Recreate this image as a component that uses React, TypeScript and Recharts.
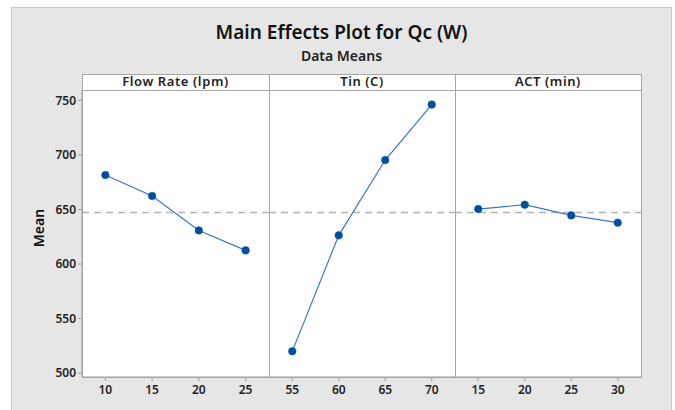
import React from "react";
import {
  LineChart,
  Line,
  XAxis,
  YAxis,
  ReferenceLine,
} from "recharts";

// Factor levels and mean responses
const flowRateLevels = [10, 15, 20, 25];
const flowRateMeans = [681.6, 662.4, 630.8, 612.5];

const tinLevels = [55, 60, 65, 70];
const tinMeans = [520.0, 626.3, 695.3, 746.1];

const actLevels = [15, 20, 25, 30];
const actMeans = [650.4, 654.4, 644.6, 637.9];

const grandMean = 647.3;
const yTicks = [500, 550, 600, 650, 700, 750];
const panelTitles = ["Flow Rate (lpm)", "Tin (C)", "ACT (min)"];

const FONT = "'Noto Sans', 'Open Sans', sans-serif";
const Y_DOMAIN: [number, number] = [496.5, 759.5];

interface PanelProps {
  levels: number[];
  means: number[];
  showY?: boolean;
  left: number;
  width: number;
}

const Panel: React.FC<PanelProps> = ({ levels, means, showY, left, width }) => {
  const data = levels.map((x, i) => ({ x, y: means[i] }));
  const step = levels[1] - levels[0];
  const domain: [number, number] = [
    levels[0] - step / 2,
    levels[levels.length - 1] + step / 2,
  ];
  const tickStyle = { fill: "#222", fontSize: 12, fontWeight: 600, fontFamily: FONT };

  return (
    <div style={{ position: "absolute", left, top: 90 }}>
      <LineChart
        width={width}
        height={320}
        data={data}
        margin={{ top: 0, right: 0, bottom: 0, left: 0 }}
      >
        <XAxis
          type="number"
          dataKey="x"
          domain={domain}
          ticks={levels}
          interval={0}
          allowDataOverflow
          height={33}
          tickSize={4}
          tickMargin={4}
          axisLine={{ stroke: "#a0a0a0" }}
          tickLine={{ stroke: "#a0a0a0" }}
          tick={tickStyle}
        />
        <YAxis
          hide={!showY}
          width={52}
          domain={Y_DOMAIN}
          ticks={yTicks}
          interval={0}
          allowDataOverflow
          tickSize={4}
          tickMargin={2}
          axisLine={{ stroke: "#a0a0a0" }}
          tickLine={{ stroke: "#a0a0a0" }}
          tick={tickStyle}
        />
        <ReferenceLine
          y={grandMean}
          stroke="#b4b4b4"
          strokeWidth={1.5}
          strokeDasharray="7 5"
        />
        <Line
          type="linear"
          dataKey="y"
          stroke="#3b78c4"
          strokeWidth={1.2}
          dot={{ r: 3.8, fill: "#0050a0", stroke: "#0050a0", strokeWidth: 0.5 }}
          isAnimationActive={false}
        />
      </LineChart>
    </div>
  );
};

const App: React.FC = () => {
  const panelEdges = [82, 269, 455, 641];
  return (
    <div
      style={{
        position: "relative",
        width: 675,
        height: 410,
        background: "#fff",
        fontFamily: FONT,
        overflow: "hidden",
      }}
    >
      <style>{`body{margin:0}`}</style>
      {/* grey figure background */}
      <div
        style={{
          position: "absolute",
          left: 11,
          top: 7,
          width: 661,
          height: 420,
          background: "#e6e6e6",
          border: "1px solid #c8c8c8",
          boxSizing: "border-box",
        }}
      />
      {/* titles */}
      <div
        style={{
          position: "absolute",
          left: 11,
          width: 661,
          top: 23,
          textAlign: "center",
          fontSize: 19,
          lineHeight: "19px",
          fontWeight: 600,
          color: "#111",
        }}
      >
        Main Effects Plot for Qc (W)
      </div>
      <div
        style={{
          position: "absolute",
          left: 11,
          width: 661,
          top: 49,
          textAlign: "center",
          fontSize: 14,
          lineHeight: "14px",
          fontWeight: 600,
          color: "#222",
        }}
      >
        Data Means
      </div>
      {/* plot frame + header strip */}
      <div
        style={{
          position: "absolute",
          left: 82,
          top: 74,
          width: 560,
          height: 304,
          background: "#fff",
          border: "1px solid #a6a6a6",
          boxSizing: "border-box",
        }}
      />
      <div
        style={{
          position: "absolute",
          left: 82,
          top: 90,
          width: 560,
          height: 1,
          background: "#a6a6a6",
        }}
      />
      {[269, 455].map((x) => (
        <div
          key={x}
          style={{
            position: "absolute",
            left: x,
            top: 74,
            width: 1,
            height: 304,
            background: "#a6a6a6",
          }}
        />
      ))}
      {panelTitles.map((t, i) => (
        <div
          key={t}
          style={{
            position: "absolute",
            left: panelEdges[i],
            width: panelEdges[i + 1] - panelEdges[i],
            top: 75,
            textAlign: "center",
            fontSize: 13,
            lineHeight: "13px",
            fontWeight: 600,
            letterSpacing: 0.6,
            color: "#222",
          }}
        >
          {t}
        </div>
      ))}
      {/* y label */}
      <div
        style={{
          position: "absolute",
          left: 39,
          top: 228,
          transform: "translate(-50%, -50%) rotate(-90deg)",
          fontSize: 14,
          lineHeight: "14px",
          fontWeight: 600,
          color: "#111",
          whiteSpace: "nowrap",
        }}
      >
        Mean
      </div>
      <Panel levels={flowRateLevels} means={flowRateMeans} showY left={30} width={239} />
      <Panel levels={tinLevels} means={tinMeans} left={269} width={186} />
      <Panel levels={actLevels} means={actMeans} left={455} width={186} />
    </div>
  );
};

export default App;
